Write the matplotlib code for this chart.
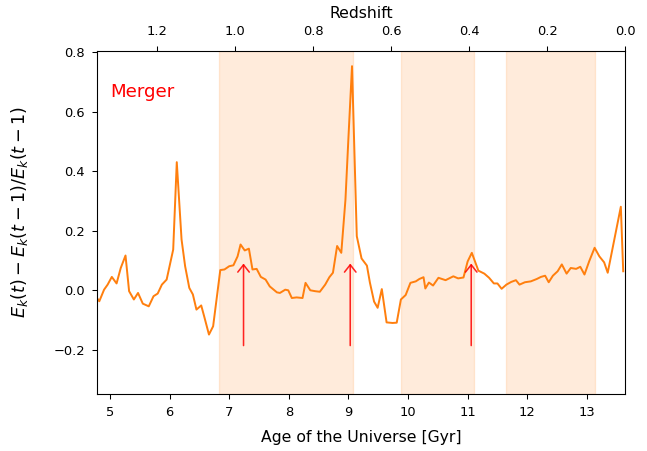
import matplotlib
matplotlib.use("Agg")
import matplotlib.pyplot as plt

# Age of the Universe [Gyr] and fractional kinetic-energy change per step
age = [4.78, 4.82, 4.90, 4.96, 5.03, 5.11, 5.18, 5.26, 5.32, 5.40,
       5.47, 5.55, 5.65, 5.73, 5.80, 5.87, 5.95, 6.06, 6.12, 6.20,
       6.26, 6.33, 6.39, 6.45, 6.53, 6.58, 6.66, 6.73, 6.85, 6.92,
       7.00, 7.07, 7.14, 7.19, 7.26, 7.33, 7.39, 7.46, 7.53, 7.61,
       7.68, 7.80, 7.85, 7.94, 7.99, 8.05, 8.13, 8.23, 8.28, 8.36,
       8.44, 8.52, 8.61, 8.68, 8.74, 8.81, 8.88, 8.95, 9.00, 9.06,
       9.14, 9.22, 9.31, 9.36, 9.43, 9.49, 9.56, 9.64, 9.74, 9.81,
       9.88, 9.96, 10.04, 10.13, 10.19, 10.26, 10.29, 10.35, 10.42, 10.51,
       10.63, 10.76, 10.84, 10.93, 11.00, 11.07, 11.18, 11.28, 11.36, 11.44,
       11.50, 11.57, 11.65, 11.73, 11.81, 11.87, 11.96, 12.06, 12.16, 12.23,
       12.30, 12.36, 12.43, 12.51, 12.58, 12.66, 12.73, 12.82, 12.89, 12.96,
       13.04, 13.13, 13.21, 13.29, 13.35, 13.57, 13.61]
dEk = [-0.026, -0.037, 0.002, 0.019, 0.045, 0.023, 0.075, 0.117, -0.003, -0.031,
       -0.009, -0.045, -0.054, -0.020, -0.011, 0.019, 0.036, 0.137, 0.431, 0.171,
       0.081, 0.008, -0.014, -0.065, -0.051, -0.088, -0.149, -0.121, 0.068, 0.070,
       0.081, 0.084, 0.114, 0.154, 0.134, 0.140, 0.070, 0.072, 0.045, 0.036,
       0.013, -0.007, -0.009, 0.002, 0.000, -0.026, -0.024, -0.026, 0.025, 0.000,
       -0.003, -0.005, 0.019, 0.044, 0.059, 0.149, 0.126, 0.305, 0.513, 0.754,
       0.182, 0.107, 0.083, 0.026, -0.038, -0.059, 0.004, -0.108, -0.110, -0.109,
       -0.031, -0.016, 0.025, 0.030, 0.038, 0.044, 0.006, 0.026, 0.016, 0.042,
       0.034, 0.047, 0.040, 0.043, 0.097, 0.126, 0.066, 0.056, 0.042, 0.023,
       0.023, 0.005, 0.019, 0.028, 0.034, 0.019, 0.027, 0.030, 0.038, 0.045,
       0.049, 0.027, 0.049, 0.064, 0.087, 0.056, 0.075, 0.072, 0.079, 0.053,
       0.098, 0.143, 0.114, 0.094, 0.059, 0.281, 0.064]

# shaded intervals (start, end) in Gyr
span_start = [6.83, 9.89, 11.64]
span_end = [9.07, 11.11, 13.14]

# merger epochs marked with arrows
merger_age = [7.24, 9.03, 11.06]
arrow_tail = -0.186
arrow_tip = 0.09

age_ticks = [5, 6, 7, 8, 9, 10, 11, 12, 13]
y_ticks = [-0.2, 0.0, 0.2, 0.4, 0.6, 0.8]
z_ticks = [1.2, 1.0, 0.8, 0.6, 0.4, 0.2, 0.0]
z_tick_labels = ["1.2", "1.0", "0.8", "0.6", "0.4", "0.2", "0.0"]

DPI = 94
fig = plt.figure(figsize=(647 / DPI, 451 / DPI), dpi=DPI)
ax = fig.add_axes([0.1495, 0.1257, 0.8165, 0.7612])

for a, b in zip(span_start, span_end):
    ax.axvspan(a, b, color="C1", alpha=0.15)

ax.plot(age, dEk, color="C1", lw=1.5)

for m in merger_age:
    ax.annotate("", xy=(m, arrow_tip), xytext=(m, arrow_tail),
                arrowprops=dict(arrowstyle="->, head_length=0.28, head_width=0.22",
                                color="red", lw=1.2, alpha=0.85,
                                shrinkA=0, shrinkB=0, mutation_scale=20))

ax.text(0.025, 0.866, "Merger", transform=ax.transAxes, color="red",
        fontsize=14, va="baseline", ha="left")

ax.set_xlim(4.777, 13.64)
ax.set_ylim(-0.35, 0.805)
ax.set_xticks(age_ticks)
ax.set_yticks(y_ticks)
ax.tick_params(axis="x", pad=5.8)
ax.tick_params(axis="y", pad=5.5)
ax.set_xlabel("Age of the Universe [Gyr]", fontsize=12, labelpad=8)
ax.set_ylabel(r"$E_k(t) - E_k(t-1)/E_k(t-1)$", fontsize=13.5)
ax.yaxis.set_label_coords(-0.126, 0.53)

ax2 = ax.twiny()
ax2.set_xlim(1.355, 0.0)
ax2.set_xticks(z_ticks)
ax2.set_xticklabels(z_tick_labels)
ax2.tick_params(axis="x", pad=6.5)
ax2.set_xlabel("Redshift", fontsize=12, labelpad=5)

fig.savefig("out.png", dpi=DPI)
